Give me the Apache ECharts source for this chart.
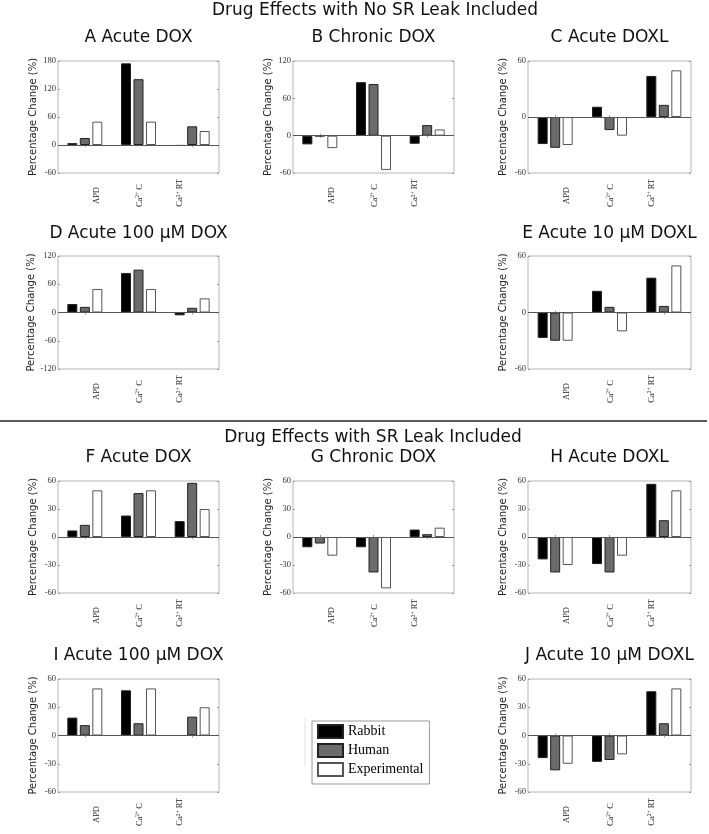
<!DOCTYPE html>
<html><head><meta charset="utf-8">
<script src="https://cdn.jsdelivr.net/npm/echarts@6/dist/echarts.min.js"></script>
<style>html,body{margin:0;padding:0;background:#fff}#c{width:709px;height:834px}</style>
</head><body><div id="c"></div>
<script>
// ---------- data ----------
const categories = ['APD', 'Ca2+ C', 'Ca2+ RT'];
const seriesNames = ['Rabbit', 'Human', 'Experimental'];
const mainTitles = ['Drug Effects with No SR Leak Included', 'Drug Effects with SR Leak Included'];
const panelTitles = ['A Acute DOX', 'B Chronic DOX', 'C Acute DOXL', 'D Acute 100 μM DOX', 'E Acute 10 μM DOXL',
                     'F Acute DOX', 'G Chronic DOX', 'H Acute DOXL', 'I Acute 100 μM DOX', 'J Acute 10 μM DOXL'];
const yAxisName = 'Percentage Change (%)';

const rabbitA = [4, 175, -2],    humanA = [15, 141, 40],  expA = [50, 50, 30];
const rabbitB = [-14, 86, -13],  humanB = [-1, 83, 17],   expB = [-20, -55, 10];
const rabbitC = [-29, 11, 44],   humanC = [-33, -14, 13], expC = [-30, -20, 50];
const rabbitD = [18, 84, -6],    humanD = [12, 91, 10],   expD = [50, 50, 30];
const rabbitE = [-27, 23, 37],   humanE = [-30, 6, 7],    expE = [-30, -20, 50];
const rabbitF = [7, 23, 17],     humanF = [13, 47, 58],   expF = [50, 50, 30];
const rabbitG = [-11, -11, 8],   humanG = [-7, -38, 3],   expG = [-20, -55, 10];
const rabbitH = [-24, -29, 57],  humanH = [-38, -38, 18], expH = [-30, -20, 50];
const rabbitI = [19, 48, 0],     humanI = [11, 13, 20],   expI = [50, 50, 30];
const rabbitJ = [-24, -28, 47],  humanJ = [-37, -26, 13], expJ = [-30, -20, 50];

const yMin = [-60, -60, -60, -120, -60, -60, -60, -60, -60, -60];
const yMax = [180, 120, 60, 120, 60, 60, 60, 60, 60, 60];
const yInterval = [60, 60, 60, 60, 60, 30, 30, 30, 30, 30];

const panelRabbit = [rabbitA, rabbitB, rabbitC, rabbitD, rabbitE, rabbitF, rabbitG, rabbitH, rabbitI, rabbitJ];
const panelHuman = [humanA, humanB, humanC, humanD, humanE, humanF, humanG, humanH, humanI, humanJ];
const panelExp = [expA, expB, expC, expD, expE, expF, expG, expH, expI, expJ];

// ---------- layout / style ----------
const colLeft = [58, 293, 528];
const colWidth = [161, 161, 163];
const rowTop = [61, 256, 481, 679];
const rowHeight = [112, 113, 112, 113];
const titleTop = [29, 225, 449, 647];
const panelPos = [[0,0],[0,1],[0,2],[1,0],[1,2],[2,0],[2,1],[2,2],[3,0],[3,2]];
const labelPad = [[24, 13, 0, 0], [2, 10, 0, 0], [0, 5, 24, 0]];
const colors = ['#000000', '#6b6b6b', '#ffffff'];
const serif = 'Liberation Serif';
const sans = 'DejaVu Sans';

const grid = [], xAxis = [], yAxis = [], series = [], title = [];

mainTitles.forEach((t, i) => {
  title.push({
    text: t, left: [375, 373][i], top: [2, 429][i], textAlign: 'center', padding: 0,
    textStyle: { fontFamily: sans, fontSize: 17, fontWeight: 'normal', color: '#111' }
  });
});

function catFormatter(v) {
  if (v.indexOf('Ca2+') === 0) return '{n|Ca}{s|2+}{n|' + v.slice(4) + '}';
  return '{n|' + v + '}';
}

panelTitles.forEach((pt, p) => {
  const [r, c] = panelPos[p];
  const left = colLeft[c], width = colWidth[c], top = rowTop[r], height = rowHeight[r];
  grid.push({ left, top, width, height, show: true, borderColor: '#b5b5b5', borderWidth: 1, backgroundColor: 'transparent' });
  title.push({
    text: pt, left: left + width / 2, top: titleTop[r], textAlign: 'center', padding: 0,
    textStyle: { fontFamily: sans, fontSize: 17, fontWeight: 'normal', color: '#111' }
  });
  const tickStyle = { show: true, inside: true, length: 2, lineStyle: { color: '#999', width: 1 } };
  xAxis.push({
    type: 'category', gridIndex: p, position: 'bottom',
    data: categories.map((v, i) => ({ value: v, textStyle: { padding: labelPad[i] } })),
    axisLine: { show: false },
    axisTick: Object.assign({ alignWithLabel: true }, tickStyle),
    axisLabel: {
      rotate: 90, margin: 1, color: '#222', fontFamily: serif, fontSize: 8.5,
      formatter: catFormatter,
      rich: {
        n: { fontFamily: serif, fontSize: 8.5, lineHeight: 10, color: '#222' },
        s: { fontFamily: serif, fontSize: 5.5, lineHeight: 5.5, verticalAlign: 'top', color: '#222' }
      }
    },
    splitLine: { show: false }
  });
  xAxis.push({
    type: 'category', gridIndex: p, position: 'top', data: categories,
    axisLine: { show: false }, axisTick: Object.assign({ alignWithLabel: true }, tickStyle),
    axisLabel: { show: false }, splitLine: { show: false }
  });
  yAxis.push({
    type: 'value', gridIndex: p, position: 'left', min: yMin[p], max: yMax[p], interval: yInterval[p],
    axisLine: { show: false }, axisTick: tickStyle, splitLine: { show: false },
    axisLabel: { margin: 2, fontFamily: serif, fontSize: 8.5, color: '#333' },
    name: yAxisName, nameLocation: 'middle', nameGap: 20,
    nameTextStyle: { fontFamily: sans, fontSize: 10, color: '#222' }
  });
  yAxis.push({
    type: 'value', gridIndex: p, position: 'right', min: yMin[p], max: yMax[p], interval: yInterval[p],
    axisLine: { show: false }, axisTick: tickStyle, splitLine: { show: false }, axisLabel: { show: false }
  });
  const datas = [panelRabbit[p], panelHuman[p], panelExp[p]];
  seriesNames.forEach((name, k) => {
    const s = {
      type: 'bar', name, xAxisIndex: 2 * p, yAxisIndex: 2 * p, data: datas[k],
      barWidth: 10, barGap: '25%',
      itemStyle: { color: colors[k], borderColor: k === 2 ? '#555' : '#222', borderWidth: 1 },
      emphasis: { disabled: true }, silent: true
    };
    if (k === 0) {
      s.markLine = {
        silent: true, symbol: 'none', label: { show: false }, animation: false,
        lineStyle: { color: '#555', width: 1, type: 'solid' },
        data: [{ yAxis: 0 }]
      };
    }
    series.push(s);
  });
});

const option = {
  animation: false,
  backgroundColor: '#fff',
  title, grid, xAxis, yAxis, series,
  legend: {
    data: seriesNames, orient: 'vertical', left: 312, top: 721,
    itemWidth: 25, itemHeight: 13, itemGap: 4, icon: 'rect', selectedMode: false,
    padding: [3, 6, 7, 5], borderColor: '#999', borderWidth: 1,
    textStyle: { fontFamily: serif, fontSize: 14, color: '#000' }
  },
  graphic: [
    { type: 'line', shape: { x1: 0, y1: 421, x2: 707, y2: 421 }, style: { stroke: '#222', lineWidth: 1.5 }, silent: true },
    { type: 'line', shape: { x1: 305, y1: 718, x2: 305, y2: 766 }, style: { stroke: '#e2e2e2', lineWidth: 1 }, silent: true }
  ]
};

const chart = echarts.init(document.getElementById('c'));
chart.setOption(option);
</script>
</body></html>
